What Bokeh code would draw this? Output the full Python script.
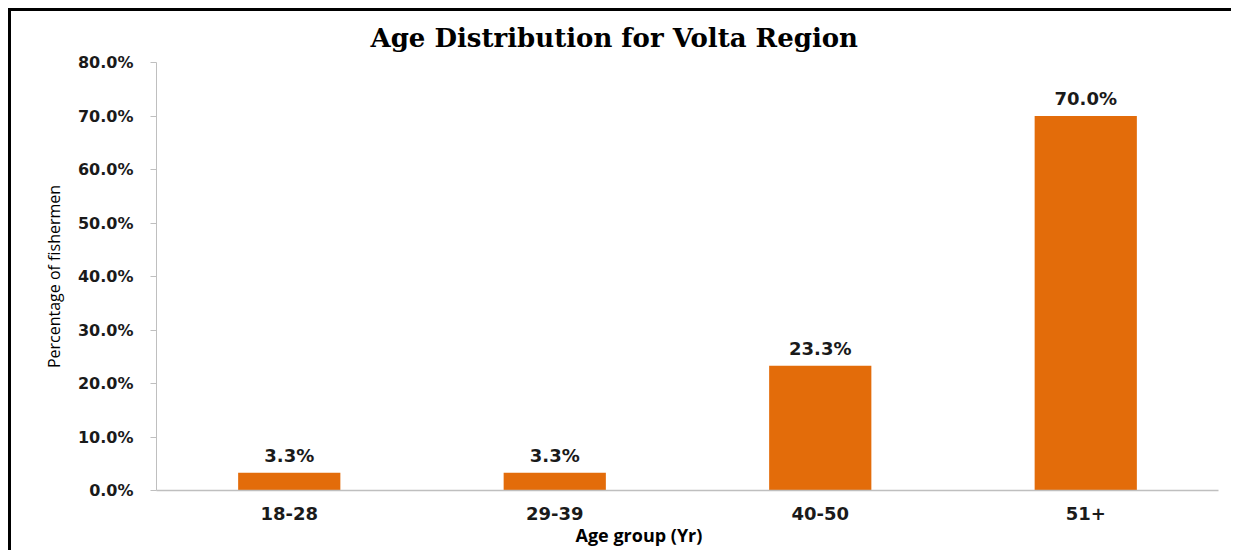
from bokeh.plotting import figure
from bokeh.models import (ColumnDataSource, FactorRange, Range1d, FixedTicker,
                          PrintfTickFormatter, LabelSet, Title)
from bokeh.core.properties import value
from bokeh.embed import file_html
from bokeh.resources import INLINE

categories = ["18-28", "29-39", "40-50", "51+"]
percent = [3.3, 3.3, 23.3, 70.0]
labels = ["3.3%", "3.3%", "23.3%", "70.0%"]
y_ticks = [0, 10, 20, 30, 40, 50, 60, 70, 80]

ORANGE = "#E36C0A"
GREY = "#BFBFBF"
TICK_FONT = "DejaVu Sans"

src = ColumnDataSource(dict(cat=categories, val=percent, lab=labels))

p = figure(width=1223, height=542, output_backend="svg", toolbar_location=None,
           x_range=FactorRange(*categories, range_padding=0),
           y_range=Range1d(0, 80),
           min_border_left=145, min_border_top=50, min_border_right=16,
           min_border_bottom=63)
p.styles = {"border-left": "3px solid black", "border-top": "3px solid black",
            "margin-left": "8px", "margin-top": "8px"}

p.title.text = "Age Distribution for Volta Region"
p.title.align = "left"
p.title.offset = 214
p.title.text_font = "DejaVu Serif"
p.title.text_font_style = "bold"
p.title.text_font_size = "26px"
p.title.text_color = "black"
p.title.standoff = 19

p.vbar(x="cat", top="val", width=0.385, source=src, fill_color=ORANGE,
       line_color=None)

p.add_layout(LabelSet(x="cat", y="val", text="lab", source=src,
                      text_align="center", text_baseline="bottom", y_offset=7,
                      text_font=value(TICK_FONT), text_font_style="bold",
                      text_font_size="18px", text_color="#1a1a1a"))

p.outline_line_color = None
p.grid.visible = False

p.yaxis.ticker = FixedTicker(ticks=y_ticks)
p.yaxis.formatter = PrintfTickFormatter(format="%.1f%%")
p.yaxis.minor_tick_line_color = None
p.yaxis.major_tick_in = 0
p.yaxis.major_tick_out = 6
p.yaxis.major_tick_line_color = GREY
p.yaxis.axis_line_color = GREY
p.yaxis.major_label_standoff = 17
p.yaxis.major_label_text_font = TICK_FONT
p.yaxis.major_label_text_font_style = "bold"
p.yaxis.major_label_text_font_size = "16px"
p.yaxis.major_label_text_color = "#1a1a1a"
p.yaxis.axis_label = "Percentage of fishermen"
p.yaxis.axis_label_text_font = "Open Sans"
p.yaxis.axis_label_text_font_style = "normal"
p.yaxis.axis_label_text_font_size = "16px"
p.yaxis.axis_label_text_color = "black"
p.yaxis.axis_label_standoff = 10

p.xaxis.major_tick_line_color = None
p.xaxis.minor_tick_line_color = None
p.xaxis.axis_line_color = GREY
p.xaxis.axis_line_width = 1.5
p.xaxis.major_label_standoff = 10
p.xaxis.major_label_text_font = TICK_FONT
p.xaxis.major_label_text_font_style = "bold"
p.xaxis.major_label_text_font_size = "18px"
p.xaxis.major_label_text_color = "#1a1a1a"

p.add_layout(Title(text="Age group (Yr)", align="left", offset=419,
                   text_font="Open Sans", text_font_style="bold",
                   text_font_size="18px", text_color="black", standoff=-4),
             "below")

open("out.html", "w").write(file_html(p, INLINE))
